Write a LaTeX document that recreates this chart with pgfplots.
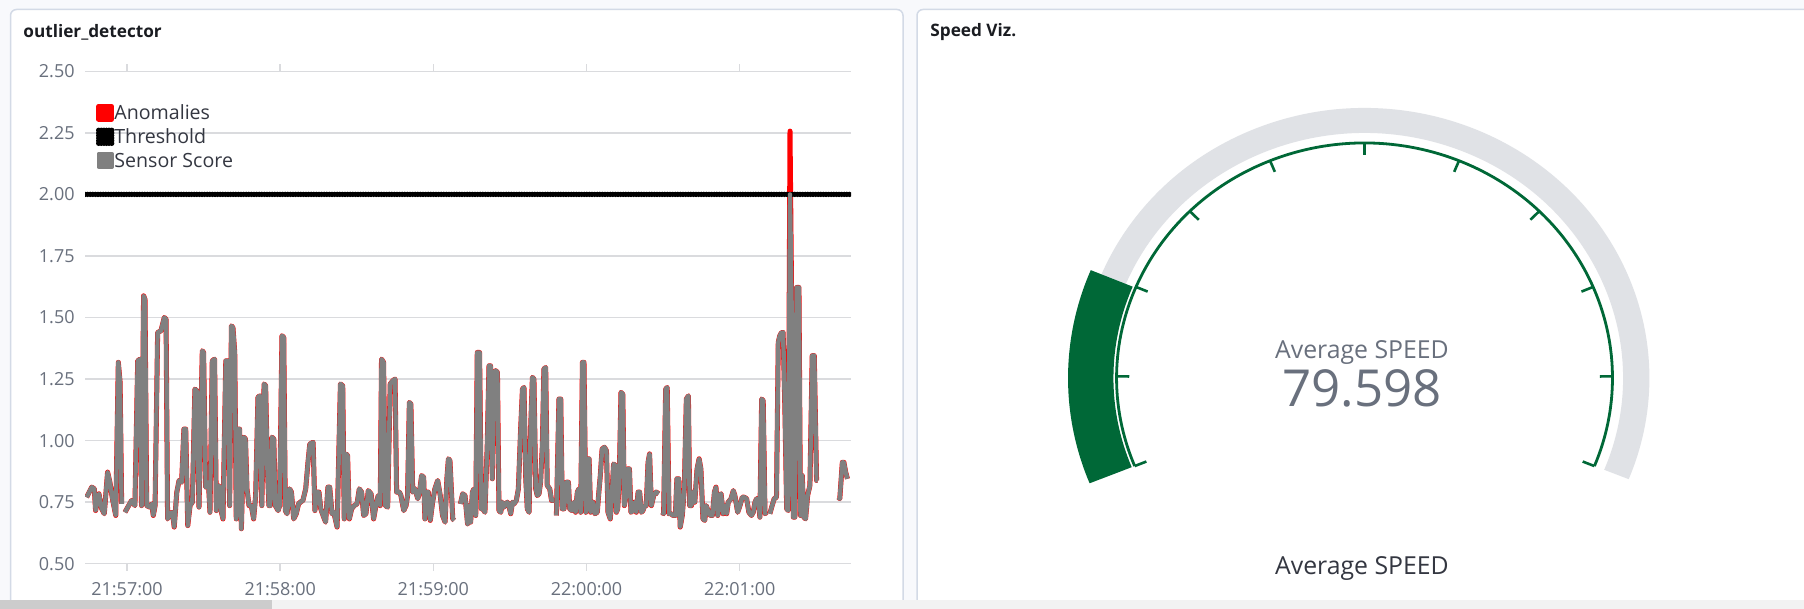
\documentclass[border=0pt]{standalone}
\usepackage{fontspec}
\setmainfont{Open Sans}
\usepackage{pgfplots}
\usepackage{pgfplotstable}
\pgfplotsset{compat=1.18}

\definecolor{panelborder}{RGB}{211,218,230}
\definecolor{bgpage}{RGB}{248,249,252}
\definecolor{gridgrey}{RGB}{218,219,222}
\definecolor{ticktext}{RGB}{105,112,125}
\definecolor{legtext}{RGB}{52,55,65}
\definecolor{titletext}{RGB}{26,28,33}
\definecolor{scoregrey}{RGB}{128,128,128}
\definecolor{gaugegreen}{RGB}{0,104,55}
\definecolor{gaugegrey}{RGB}{224,226,230}

\newcommand\fs[1]{\fontsize{#1}{#1}\selectfont}

% seconds after 21:57:00, anomaly score, sensor score (capped at threshold)
\pgfplotstableread{
t a s
-15.8 0.770 0.770
-13.8 0.811 0.811
-12.8 0.804 0.804
-12.3 0.716 0.716
-11.0 0.784 0.784
-9.9 0.723 0.723
-8.9 0.703 0.703
-7.6 0.872 0.872
-6.7 0.831 0.831
-5.7 0.764 0.764
-4.4 0.696 0.696
-3.4 1.318 1.318
-2.7 1.236 1.236
-2.1 0.743 0.743
nan nan nan
-0.8 0.709 0.709
1.8 0.757 0.757
3.1 0.736 0.736
4.2 1.324 1.324
5.1 1.331 1.331
5.7 0.736 0.736
6.5 1.588 1.588
7.05 1.574 1.574
7.7 0.736 0.736
9.0 0.730 0.730
9.7 0.743 0.743
10.3 0.696 0.696
11.0 0.736 0.736
12.0 1.439 1.439
13.3 1.446 1.446
14.6 1.500 1.500
15.3 1.493 1.493
15.9 0.682 0.682
16.8 0.703 0.703
17.8 0.709 0.709
18.5 0.649 0.649
19.5 0.790 0.790
20.4 0.838 0.838
21.4 0.831 0.831
22.3 1.047 1.047
23.0 1.047 1.047
23.8 0.655 0.655
24.7 0.736 0.736
25.6 0.750 0.750
26.6 1.209 1.209
27.3 1.203 1.203
28.2 0.730 0.730
29.5 1.365 1.365
30.0 1.358 1.358
30.8 0.811 0.811
31.9 0.831 0.831
32.5 0.709 0.709
33.4 1.324 1.324
34.3 1.331 1.331
35.0 0.716 0.716
35.6 0.818 0.818
36.3 0.811 0.811
37.0 0.709 0.709
37.6 0.682 0.682
38.7 1.324 1.324
39.6 1.324 1.324
40.2 0.736 0.736
40.9 1.466 1.466
41.5 1.459 1.459
42.2 1.358 1.358
42.8 0.682 0.682
43.5 1.047 1.047
44.1 1.047 1.047
44.8 0.642 0.642
45.7 1.014 1.014
46.4 1.007 1.007
47.0 0.804 0.804
47.8 0.736 0.736
48.7 0.736 0.736
49.6 0.682 0.682
50.4 0.777 0.777
51.3 1.176 1.176
52.0 1.182 1.182
52.8 0.736 0.736
53.7 1.230 1.230
54.3 1.223 1.223
55.0 0.885 0.885
55.6 0.736 0.736
56.1 0.736 0.736
56.8 1.014 1.014
57.5 1.007 1.007
58.1 0.736 0.736
59.2 0.716 0.716
59.8 0.736 0.736
60.7 1.426 1.426
61.4 1.419 1.419
62.0 0.716 0.716
62.7 0.703 0.703
63.7 0.804 0.804
64.4 0.791 0.791
65.3 0.682 0.682
66.3 0.703 0.703
67.2 0.743 0.743
67.9 0.750 0.750
68.9 0.757 0.757
70.0 0.804 0.804
70.9 0.912 0.912
71.6 0.986 0.986
72.9 0.993 0.993
73.6 0.716 0.716
74.4 0.791 0.791
75.2 0.791 0.791
75.9 0.723 0.723
76.8 0.696 0.696
77.8 0.669 0.669
78.7 0.811 0.811
79.4 0.811 0.811
80.3 0.703 0.703
81.0 0.709 0.709
82.3 0.649 0.649
83.6 1.230 1.230
84.5 1.223 1.223
85.1 0.682 0.682
85.8 0.946 0.946
86.4 0.939 0.939
87.1 0.682 0.682
88.0 0.723 0.723
89.0 0.736 0.736
90.1 0.743 0.743
91.0 0.804 0.804
91.9 0.791 0.791
92.7 0.696 0.696
93.6 0.703 0.703
94.5 0.797 0.797
95.6 0.784 0.784
96.6 0.682 0.682
97.5 0.736 0.736
98.4 0.777 0.777
99.2 0.736 0.736
99.7 1.331 1.331
100.5 1.318 1.318
101.2 0.736 0.736
102.1 0.730 0.730
103.1 1.230 1.230
104.1 1.243 1.243
105.0 1.250 1.250
105.6 0.791 0.791
106.7 0.791 0.791
107.3 0.777 0.777
108.4 0.716 0.716
109.3 0.736 0.736
109.9 0.777 0.777
110.6 1.155 1.155
111.2 1.149 1.149
111.9 0.791 0.791
112.8 0.804 0.804
113.9 0.764 0.764
114.6 0.791 0.791
115.4 0.858 0.858
116.2 0.851 0.851
116.7 0.682 0.682
117.5 0.791 0.791
118.0 0.791 0.791
118.8 0.676 0.676
119.7 0.750 0.750
120.6 0.804 0.804
121.7 0.838 0.838
122.7 0.777 0.777
123.6 0.696 0.696
124.6 0.669 0.669
125.3 0.845 0.845
125.9 0.926 0.926
126.5 0.919 0.919
127.6 0.682 0.682
128.2 0.676 0.676
nan nan nan
130.6 0.743 0.743
131.5 0.784 0.784
132.4 0.777 0.777
133.4 0.662 0.662
134.0 0.736 0.736
134.6 0.669 0.669
135.3 0.791 0.791
135.9 0.804 0.804
136.6 0.696 0.696
137.2 1.358 1.358
138.1 1.358 1.358
138.8 0.723 0.723
139.4 0.723 0.723
140.2 0.709 0.709
141.1 0.980 0.980
141.8 1.304 1.304
142.4 1.304 1.304
143.1 0.845 0.845
143.8 1.277 1.277
144.4 1.284 1.284
145.1 1.277 1.277
145.7 0.716 0.716
146.4 0.709 0.709
147.0 0.750 0.750
147.7 0.730 0.730
148.3 0.743 0.743
149.0 0.750 0.750
149.6 0.736 0.736
150.3 0.703 0.703
151.0 0.750 0.750
151.6 0.743 0.743
152.5 0.757 0.757
153.3 0.804 0.804
154.2 1.047 1.047
154.9 1.209 1.209
155.5 1.216 1.216
156.2 0.845 0.845
156.8 0.723 0.723
157.5 0.709 0.709
158.1 1.047 1.047
158.8 1.257 1.257
159.4 1.250 1.250
160.1 0.804 0.804
160.7 0.777 0.777
161.4 0.784 0.784
162.0 0.831 0.831
162.7 0.980 0.980
163.3 1.291 1.291
164.0 1.297 1.297
164.6 0.818 0.818
165.6 0.804 0.804
166.3 0.757 0.757
167.3 0.757 0.757
nan nan nan
168.2 0.696 0.696
169.2 1.169 1.169
169.9 1.169 1.169
170.5 0.723 0.723
171.2 0.723 0.723
172.1 0.831 0.831
172.9 0.831 0.831
173.4 0.723 0.723
174.2 0.716 0.716
175.1 0.750 0.750
175.7 0.709 0.709
176.4 0.791 0.791
177.0 0.804 0.804
177.7 0.709 0.709
178.4 1.318 1.318
179.0 1.318 1.318
179.7 0.709 0.709
180.3 0.926 0.926
181.0 0.926 0.926
181.6 0.709 0.709
182.5 0.750 0.750
183.3 0.703 0.703
184.2 0.709 0.709
184.9 0.800 0.800
185.4 0.858 0.858
186.1 0.966 0.966
187.0 0.973 0.973
187.8 0.959 0.959
188.4 0.709 0.709
189.3 0.682 0.682
190.0 0.791 0.791
190.6 0.905 0.905
191.3 0.899 0.899
191.7 0.709 0.709
192.2 0.723 0.723
192.8 0.831 0.831
193.5 1.196 1.196
194.2 1.189 1.189
194.8 0.736 0.736
195.5 0.777 0.777
196.1 0.885 0.885
196.8 0.885 0.885
197.4 0.709 0.709
198.2 0.716 0.716
198.9 0.750 0.750
199.5 0.709 0.709
200.2 0.791 0.791
200.8 0.791 0.791
201.5 0.709 0.709
202.1 0.716 0.716
202.8 0.736 0.736
203.4 0.736 0.736
204.1 0.912 0.912
204.7 0.946 0.946
205.4 0.736 0.736
206.3 0.777 0.777
207.3 0.791 0.791
208.3 0.784 0.784
nan nan nan
209.6 0.709 0.709
210.2 0.703 0.703
211.0 1.209 1.209
211.6 1.216 1.216
212.3 0.703 0.703
213.1 0.703 0.703
213.9 0.696 0.696
214.8 0.696 0.696
215.4 0.845 0.845
216.1 0.845 0.845
216.7 0.649 0.649
217.5 0.696 0.696
218.3 0.804 0.804
219.1 1.169 1.169
219.9 1.182 1.182
220.4 0.736 0.736
221.1 0.736 0.736
221.7 0.791 0.791
222.4 0.750 0.750
223.3 0.885 0.885
224.1 0.926 0.926
224.8 0.885 0.885
225.6 0.682 0.682
226.3 0.676 0.676
226.9 0.736 0.736
227.8 0.709 0.709
228.5 0.696 0.696
229.3 0.696 0.696
230.1 0.791 0.791
230.7 0.811 0.811
231.4 0.696 0.696
232.0 0.777 0.777
232.7 0.784 0.784
233.5 0.703 0.703
234.4 0.736 0.736
234.9 0.703 0.703
235.5 0.750 0.750
236.6 0.764 0.764
237.5 0.797 0.797
238.1 0.777 0.777
239.2 0.709 0.709
240.1 0.736 0.736
241.0 0.770 0.770
241.8 0.770 0.770
242.7 0.764 0.764
243.6 0.709 0.709
244.6 0.696 0.696
245.3 0.709 0.709
246.0 0.750 0.750
246.6 0.764 0.764
247.3 0.764 0.764
247.9 0.689 0.689
248.6 1.169 1.169
249.2 1.162 1.162
249.9 0.703 0.703
250.5 0.709 0.709
nan nan nan
251.8 0.703 0.703
252.7 0.736 0.736
253.5 0.764 0.764
254.4 0.770 0.770
255.1 1.399 1.399
255.7 1.426 1.426
256.4 1.439 1.439
257.0 1.439 1.439
257.7 1.128 1.128
258.4 0.723 0.723
259.0 0.716 0.716
259.7 2.257 2.000
260.4 1.500 1.500
261.0 0.689 0.689
261.6 0.689 0.689
262.3 1.622 1.622
263.2 1.622 1.622
263.8 0.696 0.696
264.5 0.858 0.858
265.1 0.689 0.689
265.8 0.682 0.682
266.6 0.777 0.777
267.5 0.818 0.818
268.4 1.345 1.345
269.2 1.345 1.345
270.1 0.838 0.838
270.5 0.838 0.838
nan nan nan
278.6 0.770 0.770
279.2 0.764 0.764
280.2 0.912 0.912
280.8 0.912 0.912
281.5 0.872 0.872
282.2 0.845 0.845
}\scores

% gauge: range 0..400, arc from 202 deg down to -22 deg
\newcommand\gaugevalue{79.598}
\pgfmathsetmacro\gend{202-0.56*\gaugevalue}

\begin{document}
\begin{tikzpicture}
\begin{scope}[x=0.5bp,y=-0.5bp]
\path[use as bounding box] (0,0) rectangle (1804,609);
\fill[bgpage] (0,0) rectangle (1804,609);
\filldraw[fill=white,draw=panelborder,line width=0.75bp,rounded corners=3bp] (10.5,9.5) rectangle (903,640);
\filldraw[fill=white,draw=panelborder,line width=0.75bp,rounded corners=3bp] (917,9.5) rectangle (1840,640);
\fill[black!5] (0,600) rectangle (1804,609);
\fill[black!20] (0,600) rectangle (272,609);
\node[anchor=west,inner sep=0pt,font=\bfseries\fs{8.6bp},text=titletext] at (23,32) {outlier\_detector};
\node[anchor=west,inner sep=0pt,font=\bfseries\fs{8.6bp},text=titletext] at (930,32) {Speed Viz.};
\node[inner sep=0pt,font=\fs{12.4bp},text=ticktext] at (1362,353) {Average SPEED};
\node[inner sep=0pt,font=\fs{25.5bp},text=ticktext] at (1362,388) {79.598};
\node[inner sep=0pt,font=\fs{12.4bp},text=legtext] at (1362,568) {Average SPEED};
\end{scope}

\begin{axis}[
    at={(42.5bp,-281.85bp)}, anchor=south west,
    scale only axis, width=383bp, height=246.2bp,
    xmin=-16.45, xmax=283.6, ymin=0.5, ymax=2.5,
    axis line style={draw=none},
    ymajorgrids, grid style={gridgrey,line width=0.75bp},
    ytick={0.5,0.75,1,1.25,1.5,1.75,2,2.25,2.5},
    ytick style={draw=none},
    yticklabel={\pgfmathprintnumber[fixed,fixed zerofill,precision=2,assume math mode=true]{\tick}},
    yticklabel style={inner sep=0pt,xshift=-5bp,text=ticktext,font=\fs{9bp}},
    xtick={0,60,120,180,240},
    xticklabels={21:57:00,21:58:00,21:59:00,22:00:00,22:01:00},
    xtick align=outside, major tick length=3.5bp,
    xtick style={gridgrey,line width=0.75bp},
    xticklabel style={inner sep=0pt,yshift=-5.6bp,text=ticktext,font=\fs{9bp}},
    unbounded coords=jump,
    legend cell align=left,
    legend image code/.code={\fill[#1] (0bp,-2.25bp) rectangle (6.5bp,4.25bp);},
    legend style={at={(0,1)},anchor=north west,xshift=5.5bp,yshift=-16.2bp,
        draw=none,fill=none,inner sep=0pt,outer sep=0pt,
        font=\fs{9.8bp},text=legtext,row sep=1.7bp,column sep=0bp,
        nodes={inner sep=0pt,text height=7.3bp,text depth=2.2bp}},
]
\addplot[red,line width=2.5bp,line join=round] table[x=t,y=a]{\scores};
\addlegendentry{Anomalies}
\addplot[black,line width=2.7bp,line cap=round,dash pattern=on 0pt off 1.3bp] coordinates {(-16.45,2) (283.6,2)};
\addlegendentry{Threshold}
\addplot[scoregrey,line width=2.2bp,line join=round] table[x=t,y=s]{\scores};
\addlegendentry{Sensor Score}
\end{axis}

\begin{axis}[
    at={(500bp,-300bp)}, anchor=south west,
    scale only axis, width=350bp, height=250bp,
    xmin=1000, xmax=1700, ymin=-600, ymax=-100,
    hide axis, clip=false,
]
% grey track
\fill[gaugegrey] (axis cs:{1364.5+284.85*cos(202)},{-378+270*sin(202)})
    arc[start angle=202,end angle=-22,x radius=142.43bp,y radius=135bp]
    -- (axis cs:{1364.5+258.5*cos(-22)},{-378+245*sin(-22)})
    arc[start angle=-22,end angle=202,x radius=129.24bp,y radius=122.5bp] -- cycle;
% value band
\fill[gaugegreen] (axis cs:{1364.5+296.5*cos(202)},{-378+281*sin(202)})
    arc[start angle=202,end angle=\gend,x radius=148.23bp,y radius=140.5bp]
    -- (axis cs:{1364.5+251.1*cos(\gend)},{-378+238*sin(\gend)})
    arc[start angle=\gend,end angle=202,x radius=125.55bp,y radius=119bp] -- cycle;
% scale arc and ticks
\draw[gaugegreen,line width=1.4bp] (axis cs:{1364.5+247.9*cos(202)},{-378+235*sin(202)})
    arc[start angle=202,end angle=-22,x radius=123.96bp,y radius=117.5bp];
\pgfplotsinvokeforeach{0,...,10}{
  \draw[gaugegreen,line width=1.3bp]
    (axis cs:{1364.5+247.9*cos(202-22.4*#1)},{-378+235*sin(202-22.4*#1)}) --
    (axis cs:{1364.5+235.3*cos(202-22.4*#1)},{-378+223*sin(202-22.4*#1)});
}
\end{axis}
\end{tikzpicture}
\end{document}
